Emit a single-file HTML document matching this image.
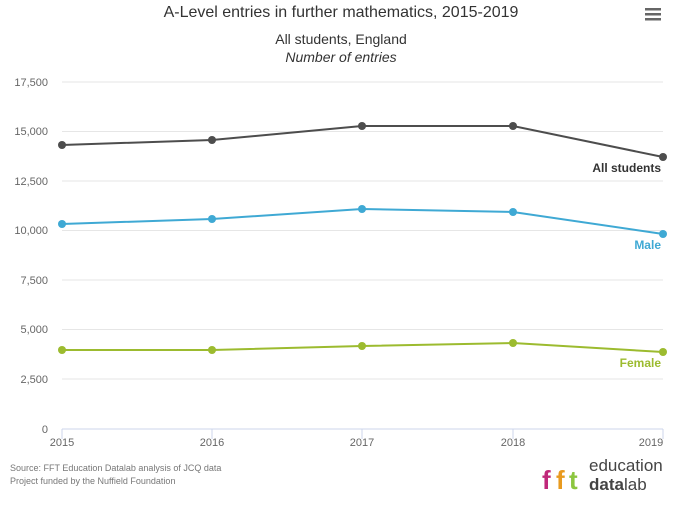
<!DOCTYPE html>
<html><head><meta charset="utf-8"><style>
body{margin:0;background:#fff;}
svg text{font-family:"Liberation Sans",sans-serif;}
</style></head><body>
<svg width="683" height="504" viewBox="0 0 683 504" xmlns="http://www.w3.org/2000/svg">
<rect width="683" height="504" fill="#fff"/>
<text x="341" y="17" text-anchor="middle" font-size="16" fill="#333">A-Level entries in further mathematics, 2015-2019</text>
<text x="341" y="44" text-anchor="middle" font-size="14" fill="#333">All students, England</text>
<text x="341" y="62" text-anchor="middle" font-size="14" font-style="italic" fill="#333">Number of entries</text>
<g fill="#666"><rect x="645" y="8" width="16" height="2.5"/><rect x="645" y="13" width="16" height="2.5"/><rect x="645" y="18" width="16" height="2.5"/></g>
<g stroke="#e6e6e6" stroke-width="1">
<line x1="62" x2="663" y1="82" y2="82"/><line x1="62" x2="663" y1="131.5" y2="131.5"/>
<line x1="62" x2="663" y1="181" y2="181"/><line x1="62" x2="663" y1="230.5" y2="230.5"/>
<line x1="62" x2="663" y1="280" y2="280"/><line x1="62" x2="663" y1="329.5" y2="329.5"/>
<line x1="62" x2="663" y1="379" y2="379"/>
</g>
<line x1="62" x2="663" y1="429" y2="429" stroke="#ccd6eb"/>
<g stroke="#ccd6eb"><line x1="62" x2="62" y1="429" y2="439"/><line x1="212" x2="212" y1="429" y2="439"/><line x1="362" x2="362" y1="429" y2="439"/><line x1="513" x2="513" y1="429" y2="439"/><line x1="663" x2="663" y1="429" y2="439"/></g>
<g font-size="11" fill="#666" text-anchor="end">
<text x="48" y="86">17,500</text><text x="48" y="135">15,000</text><text x="48" y="185">12,500</text><text x="48" y="234">10,000</text><text x="48" y="284">7,500</text><text x="48" y="333">5,000</text><text x="48" y="383">2,500</text><text x="48" y="433">0</text>
</g>
<g font-size="11" fill="#666" text-anchor="middle">
<text x="62" y="446">2015</text><text x="212" y="446">2016</text><text x="362" y="446">2017</text><text x="513" y="446">2018</text><text x="651" y="446">2019</text>
</g>
<polyline fill="none" stroke="#4d4d4d" stroke-width="2" points="62,145 212,140 362,126 513,126 663,157"/>
<g fill="#4d4d4d"><circle cx="62" cy="145" r="4"/><circle cx="212" cy="140" r="4"/><circle cx="362" cy="126" r="4"/><circle cx="513" cy="126" r="4"/><circle cx="663" cy="157" r="4"/></g>
<polyline fill="none" stroke="#3fa9d4" stroke-width="2" points="62,224 212,219 362,209 513,212 663,234"/>
<g fill="#3fa9d4"><circle cx="62" cy="224" r="4"/><circle cx="212" cy="219" r="4"/><circle cx="362" cy="209" r="4"/><circle cx="513" cy="212" r="4"/><circle cx="663" cy="234" r="4"/></g>
<polyline fill="none" stroke="#9cbb2f" stroke-width="2" points="62,350 212,350 362,346 513,343 663,352"/>
<g fill="#9cbb2f"><circle cx="62" cy="350" r="4"/><circle cx="212" cy="350" r="4"/><circle cx="362" cy="346" r="4"/><circle cx="513" cy="343" r="4"/><circle cx="663" cy="352" r="4"/></g>
<g font-size="12" font-weight="bold" text-anchor="end">
<text x="661" y="172" fill="#333">All students</text>
<text x="661" y="249" fill="#3fa9d4">Male</text>
<text x="661" y="367" fill="#9cbb2f">Female</text>
</g>
<text x="10" y="471" font-size="9" fill="#777">Source: FFT Education Datalab analysis of JCQ data</text>
<text x="10" y="484" font-size="9" fill="#777">Project funded by the Nuffield Foundation</text>
<g font-size="26" font-weight="bold">
<text x="542" y="489" fill="#c0287a">f</text><text x="556" y="489" fill="#e89a1f">f</text><text x="569" y="489" fill="#8cc63f">t</text>
</g>
<text x="589" y="471" font-size="17" fill="#444">education</text>
<text x="589" y="490" font-size="17" fill="#444"><tspan font-weight="bold">data</tspan>lab</text>
</svg>
</body></html>
